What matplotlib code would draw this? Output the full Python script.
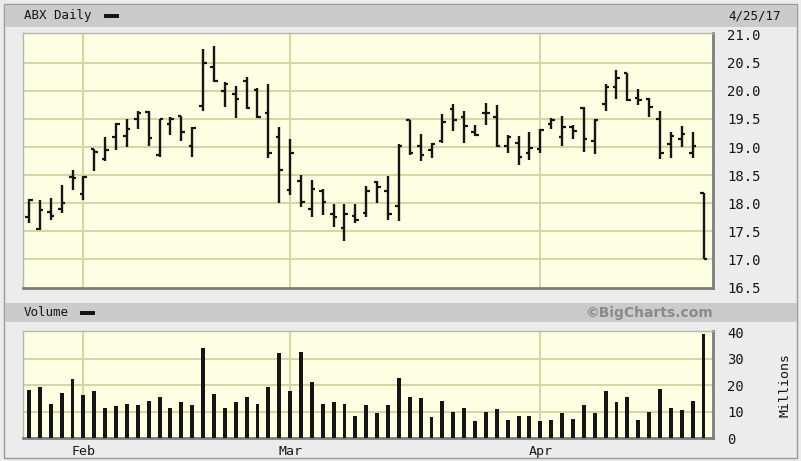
import matplotlib
matplotlib.use("Agg")
import matplotlib.pyplot as plt
import numpy as np
import pandas as pd
from matplotlib.patches import Rectangle

# ---------------- data ----------------
dates = pd.bdate_range("2017-01-25", "2017-04-25")
dates = dates[~dates.isin(pd.to_datetime(["2017-02-20", "2017-04-14"]))]

opens = [17.75, 17.54, 17.85, 17.90, 18.46, 18.16, 18.97, 18.79, 19.17, 19.20,
         19.49, 19.63, 18.85, 19.41, 19.55, 19.01, 19.73, 20.42, 19.99, 19.94,
         20.18, 20.01, 19.60, 19.17, 18.24, 18.40, 17.90, 18.21, 17.81, 17.55,
         17.78, 17.83, 18.38, 18.22, 17.95, 19.48, 19.02, 18.94, 19.10, 19.67,
         19.54, 19.26, 19.61, 19.53, 19.01, 19.07, 18.89, 18.97, 19.41, 19.17,
         19.35, 19.69, 19.10, 19.77, 20.06, 20.31, 19.88, 19.86, 19.49, 19.05,
         19.14, 18.90, 18.19]
highs = [18.08, 18.06, 18.10, 18.33, 18.59, 18.49, 18.97, 19.17, 19.42, 19.49,
         19.65, 19.64, 19.49, 19.53, 19.56, 19.36, 20.74, 20.80, 20.15, 20.09,
         20.25, 20.05, 20.13, 19.35, 19.14, 18.51, 18.41, 18.25, 17.99, 17.99,
         17.99, 18.31, 18.40, 18.49, 19.05, 19.48, 19.24, 19.08, 19.59, 19.77,
         19.65, 19.39, 19.79, 19.74, 19.21, 19.19, 19.26, 19.32, 19.51, 19.55,
         19.39, 19.71, 19.49, 20.13, 20.37, 20.31, 20.03, 19.87, 19.65, 19.27,
         19.37, 19.26, 18.19]
lows = [17.65, 17.52, 17.70, 17.82, 18.24, 18.05, 18.58, 18.75, 18.95, 19.00,
        19.32, 19.02, 18.82, 19.21, 19.10, 18.83, 19.64, 20.15, 19.71, 19.51,
        19.68, 19.51, 18.80, 18.01, 18.14, 17.93, 17.75, 17.79, 17.57, 17.33,
        17.64, 17.75, 18.01, 17.70, 17.69, 18.85, 18.75, 18.80, 19.07, 19.29,
        19.07, 19.19, 19.39, 19.00, 18.90, 18.68, 18.77, 18.90, 19.32, 19.02,
        19.14, 18.92, 18.88, 19.64, 19.86, 19.82, 19.74, 19.53, 18.78, 18.80,
        19.00, 18.80, 17.00]
closes = [18.06, 17.88, 17.78, 18.00, 18.44, 18.47, 18.92, 18.94, 19.41, 19.32,
          19.60, 19.16, 19.49, 19.49, 19.27, 19.33, 20.50, 20.18, 20.12, 19.86,
          19.69, 19.53, 18.90, 18.59, 18.90, 18.02, 18.25, 18.02, 17.75, 17.81,
          17.70, 18.21, 18.28, 17.81, 19.02, 18.89, 18.85, 19.05, 19.45, 19.48,
          19.37, 19.21, 19.60, 19.01, 19.17, 18.83, 18.98, 19.30, 19.48, 19.36,
          19.29, 19.14, 19.48, 20.07, 20.22, 19.84, 19.84, 19.71, 18.90, 19.20,
          19.23, 19.02, 17.01]
volumes = [18.1, 19.1, 13.0, 17.1, 22.3, 16.1, 17.6, 11.4, 11.9, 13.0,
           12.4, 14.0, 15.5, 11.4, 13.5, 12.4, 34.1, 16.5, 11.4, 13.5,
           15.5, 13.0, 19.1, 32.1, 17.6, 32.6, 21.3, 13.0, 13.5, 13.0,
           8.4, 12.4, 9.4, 12.4, 22.8, 15.6, 15.0, 7.9, 14.0, 9.9,
           11.4, 6.3, 9.9, 10.9, 6.8, 8.4, 8.4, 6.3, 6.8, 9.4,
           7.3, 12.4, 9.4, 17.6, 13.5, 15.5, 6.8, 9.9, 18.6, 11.4,
           10.4, 14.0, 39.4]
price_ticks = [16.5, 17.0, 17.5, 18.0, 18.5, 19.0, 19.5, 20.0, 20.5, 21.0]
volume_ticks = [0, 10, 20, 30, 40]
title = "ABX Daily"
date_label = "4/25/17"

# ---------------- style ----------------
W, H = 801, 461
BG = "#ececec"
BAND = "#cbcbcb"
PLOT_BG = "#ffffe4"
GRID = "#d6d6a4"
INK = "#151515"
MONO = "DejaVu Sans Mono"

fig = plt.figure(figsize=(W / 100, H / 100), dpi=100)
fig.patch.set_facecolor(BG)

def fr(x0, y0, x1, y1):
    return [x0 / W, 1 - y1 / H, (x1 - x0) / W, (y1 - y0) / H]

# outer frame and header bands
fig.add_artist(Rectangle((4 / W, 1 - 458 / H), 793 / W, 454 / H, transform=fig.transFigure,
                         fill=False, edgecolor="#9a9a9a", lw=1))
fig.add_artist(Rectangle((5 / W, 1 - 27 / H), 792 / W, 22 / H, transform=fig.transFigure,
                         facecolor=BAND, edgecolor="none"))
fig.add_artist(Rectangle((5 / W, 1 - 322 / H), 792 / W, 19 / H, transform=fig.transFigure,
                         facecolor=BAND, edgecolor="none"))

fig.text(24 / W, 1 - 16 / H, title, fontsize=9, family=MONO, color=INK, va="center", ha="left")
fig.add_artist(Rectangle((104 / W, 1 - 18 / H), 15 / W, 4 / H, transform=fig.transFigure,
                         facecolor=INK, edgecolor="none"))
fig.text(781 / W, 1 - 16 / H, date_label, fontsize=9, family=MONO, color=INK, va="center", ha="right")
fig.text(24 / W, 1 - 312.5 / H, "Volume", fontsize=9, family=MONO, color=INK, va="center", ha="left")
fig.add_artist(Rectangle((80 / W, 1 - 314.5 / H), 15 / W, 4 / H, transform=fig.transFigure,
                         facecolor=INK, edgecolor="none"))
fig.text(713 / W, 1 - 312.5 / H, "\u00a9BigCharts.com", fontsize=10, fontweight="bold",
         family="DejaVu Sans", color="#8a8a8a", va="center", ha="right")

x = np.arange(len(dates))
month_idx = [i for i in range(1, len(dates)) if dates[i].month != dates[i - 1].month]
month_lbl = [dates[i].strftime("%b") for i in month_idx]

def style(ax):
    ax.set_facecolor(PLOT_BG)
    for s in ["left", "top"]:
        ax.spines[s].set_color("#b5b5b5")
        ax.spines[s].set_linewidth(1)
    for s in ["right", "bottom"]:
        ax.spines[s].set_color("#7d7d7d")
        ax.spines[s].set_linewidth(2)
    ax.yaxis.tick_right()
    ax.tick_params(axis="y", length=0, pad=10, labelsize=10, labelcolor=INK)
    for lab in ax.get_yticklabels():
        lab.set_family(MONO)
    ax.set_xlim(-0.55, 62.87)
    for m in month_idx:
        ax.axvline(m, color=GRID, lw=1.5, zorder=1)

# price panel
ax = fig.add_axes(fr(23, 33, 713, 288))
style(ax)
for p in price_ticks[1:-1]:
    ax.axhline(p, color=GRID, lw=1.5, zorder=1)
ax.vlines(x, lows, highs, color=INK, lw=1.7, zorder=3)
ax.hlines(opens, x - 0.33, x, color=INK, lw=1.6, zorder=3)
ax.hlines(closes, x, x + 0.33, color=INK, lw=1.6, zorder=3)
ax.set_ylim(16.49, 21.03)
ax.set_yticks(price_ticks)
ax.set_yticklabels([f"{p:.1f}" for p in price_ticks], family=MONO)
ax.set_xticks([])

# volume panel
av = fig.add_axes(fr(23, 331, 713, 438))
style(av)
for v in volume_ticks[1:-1]:
    av.axhline(v, color=GRID, lw=1.5, zorder=1)
av.bar(x, volumes, width=0.36, color=INK, zorder=3)
av.set_ylim(0, 40.4)
av.set_yticks(volume_ticks)
av.set_yticklabels([str(v) for v in volume_ticks], family=MONO)
av.set_xticks(month_idx)
av.set_xticklabels(month_lbl, family=MONO, fontsize=9.5, color=INK)
av.tick_params(axis="x", length=0, pad=5)
fig.text(785 / W, 1 - 385 / H, "Millions", rotation=90, fontsize=9.5, family=MONO,
         color=INK, va="center", ha="center")

fig.savefig("out.png", dpi=100, facecolor=fig.get_facecolor())
